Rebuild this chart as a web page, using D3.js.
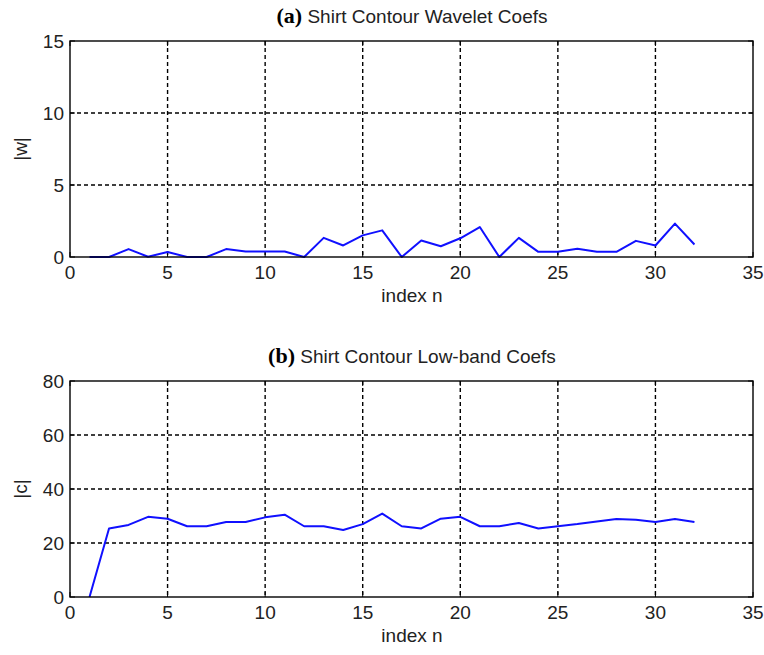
<!DOCTYPE html>
<html>
<head>
<meta charset="utf-8">
<script src="https://cdn.jsdelivr.net/npm/d3@7"></script>
<style>
  body { margin: 0; background: #fff; }
  svg text { font-family: "Liberation Sans", Arial, sans-serif; fill: #222; }
</style>
</head>
<body>
<svg id="chart" width="764" height="655"></svg>
<script>
"use strict";

// values
const indexN = d3.range(1, 33);
const wavelet = [0, 0, 0.55, 0.02, 0.35, 0, 0, 0.55, 0.38, 0.38, 0.38, 0,
  1.33, 0.8, 1.5, 1.85, 0, 1.14, 0.75, 1.3, 2.08, 0, 1.33, 0.36,
  0.36, 0.58, 0.36, 0.36, 1.12, 0.8, 2.32, 0.87];
const lowband = [0, 25.4, 26.7, 29.7, 29, 26.2, 26.2, 27.8, 27.8, 29.5, 30.5, 26.2,
  26.2, 24.8, 27, 30.9, 26.2, 25.4, 29, 29.7, 26.2, 26.2, 27.4, 25.4,
  26.2, 27, 28, 28.9, 28.6, 27.8, 28.9, 27.8];
const xTicks = [0, 5, 10, 15, 20, 25, 30, 35];
const wTicks = [0, 5, 10, 15];
const cTicks = [0, 20, 40, 60, 80];

const svg = d3.select("#chart");

function panel(opt) {
  const x = d3.scaleLinear().domain([0, 35]).range([70, 753]);
  const y = d3.scaleLinear().domain(opt.yDomain).range([opt.bottom, opt.top]);
  const g = svg.append("g");

  // grid (dotted, like matlab)
  g.selectAll("line.gx")
    .data(xTicks.slice(1, -1))
    .enter()
    .append("line")
    .attr("x1", d => x(d)).attr("x2", d => x(d))
    .attr("y1", opt.top).attr("y2", opt.bottom)
    .attr("stroke", "#000").attr("stroke-width", 1.4)
    .attr("stroke-dasharray", "4,3");
  g.selectAll("line.gy")
    .data(opt.yTicks.slice(1, -1))
    .enter()
    .append("line")
    .attr("x1", 70).attr("x2", 753)
    .attr("y1", d => y(d)).attr("y2", d => y(d))
    .attr("stroke", "#000").attr("stroke-width", 1.4)
    .attr("stroke-dasharray", "4,3");

  // inner ticks on all four sides
  const tl = 5;
  xTicks.forEach(t => {
    g.append("line").attr("x1", x(t)).attr("x2", x(t))
      .attr("y1", opt.bottom).attr("y2", opt.bottom - tl)
      .attr("stroke", "#000");
    g.append("line").attr("x1", x(t)).attr("x2", x(t))
      .attr("y1", opt.top).attr("y2", opt.top + tl)
      .attr("stroke", "#000");
  });
  opt.yTicks.forEach(t => {
    g.append("line").attr("x1", 70).attr("x2", 70 + tl)
      .attr("y1", y(t)).attr("y2", y(t)).attr("stroke", "#000");
    g.append("line").attr("x1", 753).attr("x2", 753 - tl)
      .attr("y1", y(t)).attr("y2", y(t)).attr("stroke", "#000");
  });

  // the data line
  const line = d3.line()
    .x((d, i) => x(indexN[i]))
    .y(d => y(d));
  g.append("path")
    .datum(opt.values)
    .attr("d", line)
    .attr("fill", "none")
    .attr("stroke", "#1010ff")
    .attr("stroke-width", 2)
    .attr("stroke-linejoin", "round");

  // box
  g.append("rect")
    .attr("x", 70).attr("y", opt.top)
    .attr("width", 683).attr("height", opt.bottom - opt.top)
    .attr("fill", "none").attr("stroke", "#000").attr("stroke-width", 1.4);

  // tick labels
  g.selectAll("text.xt")
    .data(xTicks)
    .enter()
    .append("text")
    .attr("x", d => x(d))
    .attr("y", opt.bottom + 22)
    .attr("text-anchor", "middle")
    .style("font-size", "19px")
    .text(d => d);
  g.selectAll("text.yt")
    .data(opt.yTicks)
    .enter()
    .append("text")
    .attr("x", 64)
    .attr("y", d => y(d) + 7)
    .attr("text-anchor", "end")
    .style("font-size", "19px")
    .text(d => d);

  // axis labels
  g.append("text")
    .attr("x", 412).attr("y", opt.bottom + 45)
    .attr("text-anchor", "middle")
    .style("font-size", "19px")
    .text("index n");
  g.append("text")
    .attr("transform", `translate(27,${(opt.top + opt.bottom) / 2}) rotate(-90)`)
    .attr("text-anchor", "middle")
    .style("font-size", "19px")
    .text(opt.yLabel);

  // title
  const title = g.append("text")
    .attr("x", 412).attr("y", opt.top - 18)
    .attr("text-anchor", "middle");
  title.append("tspan")
    .style("font-family", "'Liberation Serif', 'Times New Roman', serif")
    .style("font-weight", "bold")
    .style("font-size", "22px")
    .style("fill", "#000")
    .text("(" + opt.tag + ")");
  title.append("tspan")
    .style("font-size", "19px")
    .text(" " + opt.title);
}

panel({
  tag: "a", title: "Shirt Contour Wavelet Coefs",
  values: wavelet, yDomain: [0, 15], yTicks: wTicks,
  top: 41, bottom: 257, yLabel: "|w|"
});
panel({
  tag: "b", title: "Shirt Contour Low-band Coefs",
  values: lowband, yDomain: [0, 80], yTicks: cTicks,
  top: 381, bottom: 597, yLabel: "|c|"
});
</script>
</body>
</html>
